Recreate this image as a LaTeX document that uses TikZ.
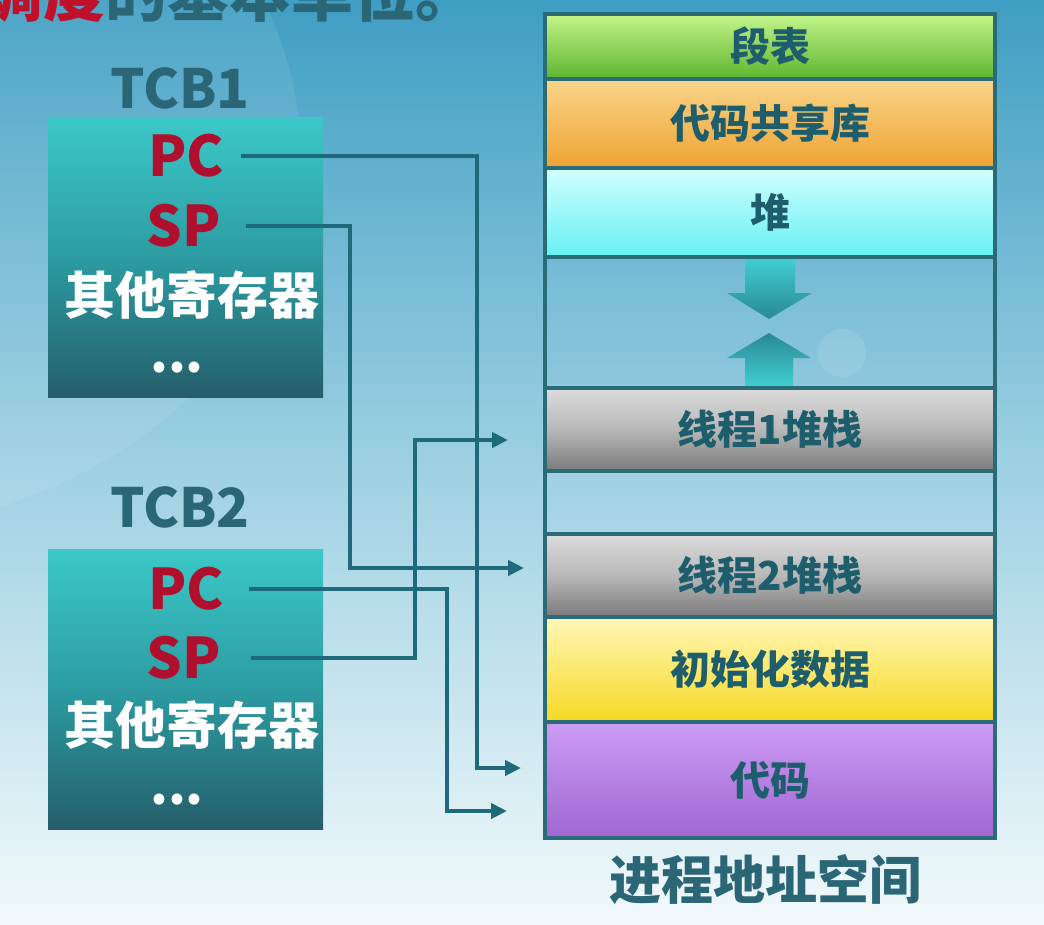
\documentclass[tikz,border=0pt]{standalone}
\usepackage{fontspec}
\setmainfont{Noto Sans CJK SC}
\usetikzlibrary{arrows.meta}
\definecolor{bgtop}{HTML}{3F9EC3}
\definecolor{bgmid}{HTML}{9DD0E2}
\definecolor{bgbot}{HTML}{F2F9FB}
\definecolor{tcbtop}{HTML}{3CC8C8}
\definecolor{tcbmid}{HTML}{2C9CA2}
\definecolor{tcbbot}{HTML}{245E6A}
\definecolor{regred}{HTML}{B0102E}
\definecolor{titlered}{HTML}{C0102A}
\definecolor{tealtext}{HTML}{2A6676}
\definecolor{segborder}{HTML}{2A6B78}
\definecolor{segtext}{HTML}{1E5E6C}
\definecolor{connc}{HTML}{1F6A7A}
\definecolor{greentop}{HTML}{C4F58A}
\definecolor{greenbot}{HTML}{5DB52E}
\definecolor{orangetop}{HTML}{F9D48A}
\definecolor{orangebot}{HTML}{F0A332}
\definecolor{cyantop}{HTML}{D2FFFF}
\definecolor{cyanbot}{HTML}{66F0F2}
\definecolor{graytop}{HTML}{DCDCDC}
\definecolor{graymid}{HTML}{B8B8B8}
\definecolor{graybot}{HTML}{7A7A7A}
\definecolor{yellowtop}{HTML}{FFF7B8}
\definecolor{yellowbot}{HTML}{F7D823}
\definecolor{purpletop}{HTML}{CC9CF5}
\definecolor{purplebot}{HTML}{A066D2}
\definecolor{arrlight}{HTML}{40D0D2}
\definecolor{arrdark}{HTML}{2A8896}
\begin{document}
\begin{tikzpicture}[x=1pt,y=-1pt,
  tcbbox/.style={rectangle, inner sep=0pt, minimum width=275pt, minimum height=280pt,
    top color=tcbtop, bottom color=tcbbot, middle color=tcbmid},
  tcblabel/.style={inner sep=0pt, text=tealtext, font=\fontsize{54}{54}\selectfont\bfseries},
  reg/.style={inner sep=0pt, text=regred, font=\fontsize{56}{56}\selectfont\bfseries},
  othreg/.style={inner sep=0pt, text=white, font=\fontsize{51}{51}\selectfont\bfseries},
  seg/.style={rectangle, draw=segborder, line width=4pt, inner sep=0pt, minimum width=450pt,
    text=segtext, font=\fontsize{40}{40}\selectfont\bfseries},
  conn/.style={draw=connc, line width=4pt, -{Triangle[length=16pt,width=15pt]}}
]
\useasboundingbox (0,0) rectangle (1044,924);
\clip (0,0) rectangle (1044,924);
% background
\shade[top color=bgtop, bottom color=bgbot, middle color=bgmid] (0,0) rectangle (1044,924);
\fill[white, opacity=0.08] (-160,150) ellipse [x radius=460, y radius=380];
\fill[white, opacity=0.1] (842,353) circle (24);

% title (partially cut off at the top, as in the reference)
\node[anchor=base west, inner sep=0pt, font=\fontsize{62}{62}\selectfont\bfseries] (title) at (-19,16)
  {\textcolor{titlered}{调度}\textcolor{tealtext}{的基本单位。}};

% TCB1
\node[tcblabel] (tcb1lbl) at (180,88) {TCB1};
\node[tcbbox] (tcb1) at (185.5,257) {};
\node[reg] (pc1) at (186,156) {PC};
\node[reg] (sp1) at (184,226) {SP};
\node[othreg] (oth1) at (192,295) {其他寄存器};
\node[othreg] (dots1) at (177,368) {...};

% TCB2
\node[tcblabel] (tcb2lbl) at (180,507) {TCB2};
\node[tcbbox] (tcb2) at (185.5,689) {};
\node[reg] (pc2) at (186,589) {PC};
\node[reg] (sp2) at (184,658) {SP};
\node[othreg] (oth2) at (192,725) {其他寄存器};
\node[othreg] (dots2) at (177,800) {...};

% growth arrows in the free area
\shade[top color=arrlight, bottom color=arrdark]
  (745,257) -- (795,257) -- (795,293) -- (812,293) -- (769,319) -- (727,293) -- (745,293) -- cycle;
\shade[top color=arrdark, bottom color=arrlight]
  (769,333) -- (811,358) -- (793,358) -- (793,388) -- (745,388) -- (745,358) -- (727,358) -- cycle;

% process address space
\node[seg, minimum height=131pt] (gap1) at (770,322.5) {};
\node[seg, minimum height=63pt] (gap2) at (770,502.5) {};
\node[seg, minimum height=65pt, top color=greentop, bottom color=greenbot] (segtab) at (770,46.5) {段表};
\node[seg, minimum height=89pt, top color=orangetop, bottom color=orangebot] (shlib) at (770,123.5) {代码共享库};
\node[seg, minimum height=89pt, top color=cyantop, bottom color=cyanbot] (heap) at (770,212.5) {堆};
\node[seg, minimum height=83pt, top color=graytop, bottom color=graybot, middle color=graymid] (stk1) at (770,429.5) {线程1堆栈};
\node[seg, minimum height=83pt, top color=graytop, bottom color=graybot, middle color=graymid] (stk2) at (770,575.5) {线程2堆栈};
\node[seg, minimum height=105pt, top color=yellowtop, bottom color=yellowbot] (idata) at (770,669.5) {初始化数据};
\node[seg, minimum height=116pt, top color=purpletop, bottom color=purplebot] (code) at (770,780) {代码};

\node[inner sep=0pt, text=tealtext, font=\fontsize{52}{52}\selectfont\bfseries] (aslbl) at (765,880) {进程地址空间};

% connectors
\coordinate (t1) at (521,768);
\coordinate (t2) at (524,568);
\coordinate (t3) at (507,811);
\coordinate (t4) at (508,440);
\coordinate (v1) at (477,0);
\coordinate (v2) at (350,0);
\coordinate (v3) at (447,0);
\coordinate (v4) at (415,0);
\draw[conn] ([xshift=17pt]pc1.east) -| (v1 |- t1) -- (t1);
\draw[conn] ([xshift=25pt]sp1.east) -| (v2 |- t2) -- (t2);
\draw[conn] ([xshift=25pt]pc2.east) -| (v3 |- t3) -- (t3);
\draw[conn] ([xshift=30pt]sp2.east) -| (v4 |- t4) -- (t4);
\end{tikzpicture}
\end{document}
